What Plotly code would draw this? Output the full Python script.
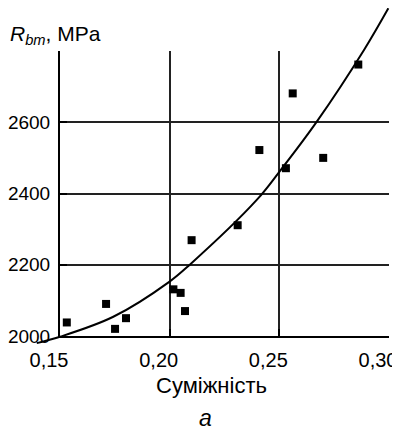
import plotly.graph_objects as go

# ---- data ----
adjacency = [0.1531, 0.1710, 0.1751, 0.1801, 0.2017, 0.2050, 0.2070, 0.2100,
             0.2310, 0.2409, 0.2530, 0.2561, 0.2700, 0.2860]
strength = [2038, 2090, 2020, 2050, 2131, 2121, 2070, 2269,
            2311, 2522, 2471, 2681, 2500, 2762]

curve_x = [0.1394, 0.1500, 0.1743, 0.1998, 0.2093, 0.2397, 0.2500, 0.2670, 0.2886, 0.2997]
curve_y = [1980, 1998, 2054, 2152, 2201, 2382, 2461, 2601, 2803, 2920]

x_ticks = [0.15, 0.20, 0.25, 0.30]
x_labels = ["0,15", "0,20", "0,25", "0,30"]
y_ticks = [2000, 2200, 2400, 2600, 2800]
y_labels = ["2000", "2200", "2400", "2600", ""]
x_grid = [0.20, 0.25]
y_grid = [2200, 2400, 2600]

# ---- layout geometry (page has an 8px body margin) ----
OFF = 8
W, H = 400, 430
ml, mr, mt, mb = 22, 17, 0, 93
pw, ph = W - ml - mr, H - mt - mb
px0, px1, py_top, py_bot = 60 - OFF, 389 - OFF, 51 - OFF, 336 - OFF
xmin, xmax, ymin, ymax = 0.15, 0.30, 2000, 2800

dx = (xmax - xmin) / (px1 - px0)
dy = (ymax - ymin) / (py_bot - py_top)
xdom = [(px0 - ml) / pw, (px1 - ml) / pw]
ydom = [(H - mb - py_bot) / ph, (H - mb - py_top) / ph]
x2range = [xmin - (px0 - ml) * dx, xmax + (W - mr - px1) * dx]
y2range = [ymin - (H - mb - py_bot) * dy, ymax + (py_top - mt) * dy]
eps_x, eps_y = 1e-6, 0.01

FONT = "Liberation Sans, Arial, sans-serif"

fig = go.Figure()
fig.add_trace(go.Scatter(
    x=adjacency, y=strength, mode="markers",
    marker=dict(symbol="square", size=8, color="black"),
    xaxis="x", yaxis="y", showlegend=False, cliponaxis=False))
fig.add_trace(go.Scatter(
    x=curve_x, y=curve_y, mode="lines",
    line=dict(color="black", width=2, shape="spline", smoothing=1),
    xaxis="x2", yaxis="y2", showlegend=False))

axis_common = dict(
    showline=True, linecolor="black", linewidth=2,
    ticks="inside", ticklen=7, tickwidth=2, tickcolor="black",
    showgrid=False, automargin=False, zeroline=False,
)

fig.update_layout(
    template="none",
    width=W, height=H,
    margin=dict(l=ml, r=mr, t=mt, b=mb, autoexpand=False),
    paper_bgcolor="white", plot_bgcolor="rgba(0,0,0,0)",
    font=dict(family=FONT, color="black"),
    xaxis=dict(domain=xdom, range=[xmin - eps_x, xmax + eps_x], tickvals=x_ticks,
               ticktext=x_labels, anchor="y", ticklabelstandoff=5, ticklabelshift=-11,
               tickfont=dict(family=FONT, size=20, color="black"),
               minor=dict(tickvals=x_grid, showgrid=True, gridcolor="#222222",
                          gridwidth=1.5, ticks=""),
               **axis_common),
    yaxis=dict(domain=ydom, range=[ymin - eps_y, ymax + eps_y], tickvals=y_ticks,
               ticktext=y_labels, anchor="x", ticklabelstandoff=4,
               tickfont=dict(family=FONT, size=19, color="black"),
               minor=dict(tickvals=y_grid, showgrid=True, gridcolor="#222222",
                          gridwidth=1.5, ticks=""),
               **axis_common),
    xaxis2=dict(domain=[0, 1], range=x2range, visible=False, anchor="y2", automargin=False),
    yaxis2=dict(domain=[0, 1], range=y2range, visible=False, anchor="x2", automargin=False),
    annotations=[
        dict(text="<i>R</i><sub><i>bm</i></sub>, MPa", xref="paper", yref="paper",
             x=(8 - OFF - ml) / pw, y=(H - mb - (35 - OFF)) / ph, xanchor="left", yanchor="middle",
             showarrow=False, font=dict(family=FONT, size=21, color="black")),
        dict(text="Суміжність", xref="paper", yref="paper",
             x=(211 - OFF - ml) / pw, y=(H - mb - (385 - OFF)) / ph, xanchor="center",
             yanchor="middle", showarrow=False, font=dict(family=FONT, size=22, color="black")),
        dict(text="<i>а</i>", xref="paper", yref="paper",
             x=(205 - OFF - ml) / pw, y=(H - mb - (418 - OFF)) / ph, xanchor="center",
             yanchor="middle", showarrow=False, font=dict(family=FONT, size=23, color="black")),
    ],
)

fig.write_html("out.html")
